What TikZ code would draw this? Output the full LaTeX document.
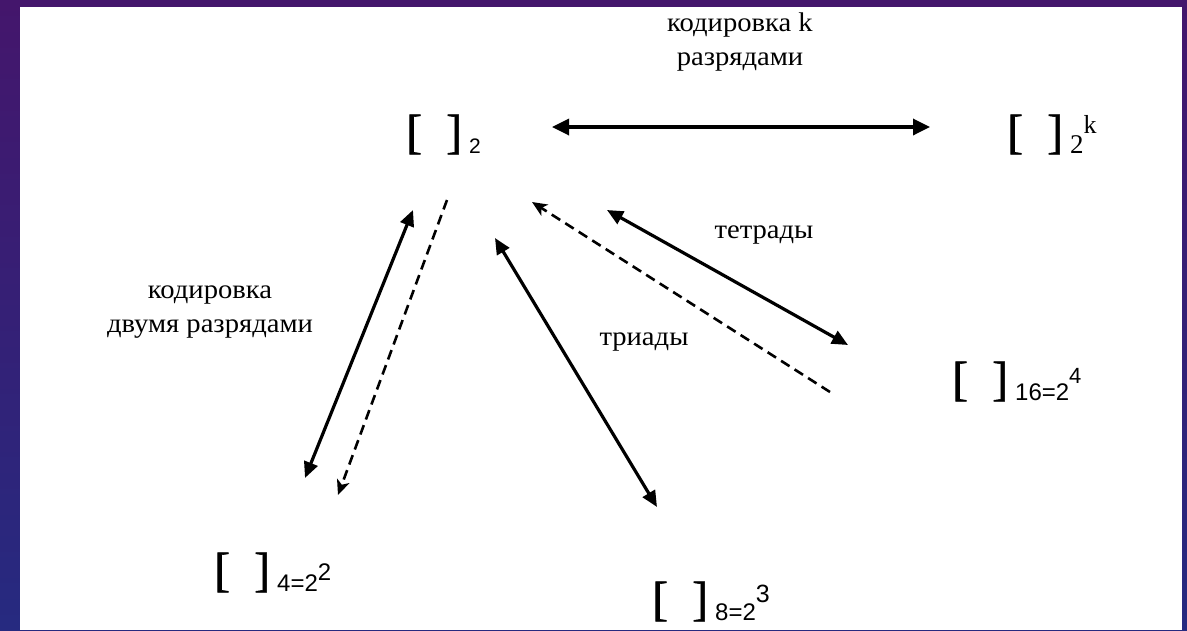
\documentclass[tikz,border=0pt]{standalone}
\usepackage{fontspec}
\setmainfont{Liberation Serif}
\newfontfamily\labf{Liberation Serif}[FakeStretch=1.06]
\newfontfamily\brf{Liberation Serif}[FakeBold=1.2]
\newfontfamily\subrf{Liberation Serif}
\newfontfamily\subsf{Liberation Sans}
\usetikzlibrary{arrows.meta}
\definecolor{bgtop}{RGB}{68,22,108}
\definecolor{bgbot}{RGB}{38,42,128}
\newcommand{\brpair}{{\brf\fontsize{48}{48}\selectfont[\hspace{24pt}]}\hspace{7pt}}
\newcommand{\bracketlabel}[3]{\brpair\raisebox{-5pt}{#1}\raisebox{#3}{#2}}
\begin{document}
\begin{tikzpicture}[x=1pt,y=-1pt,
  lab/.style={font=\labf\fontsize{27}{34}\selectfont, inner sep=0pt, align=center},
  br/.style={anchor=base west, inner sep=0pt},
  dbl/.style={line width=3.2pt, arrows={Triangle[length=16pt,width=14pt]-Triangle[length=16pt,width=14pt]}},
  dblh/.style={line width=3.4pt, arrows={Triangle[length=17pt,width=16pt]-Triangle[length=17pt,width=16pt]}},
  dsh/.style={line width=2.6pt, dash pattern=on 10pt off 6pt, arrows={-Stealth[length=15pt,width=13pt,inset=4pt]}}]
\shade[top color=bgtop,bottom color=bgbot] (0,0) rectangle (1187,630);
\fill[white] (20,7) rectangle (1182,630);
\useasboundingbox (0,0) rectangle (1187,630);

% labels
\node[lab, anchor=base] (ltop) at (740,65) {кодировка k\\разрядами};
\node[lab, anchor=base] (lleft) at (210,332) {кодировка\\двумя разрядами};
\node[lab, anchor=base] (ltet) at (764,238) {тетрады};
\node[lab, anchor=base] (ltri) at (644,345) {триады};

% bracket nodes
\node[br] (n2) at (406,148) {\bracketlabel{\subsf\fontsize{21}{21}\selectfont 2}{}{0pt}};
\node[br] (n2k) at (1007,148) {\bracketlabel{\subrf\fontsize{27}{27}\selectfont 2}{\subrf\fontsize{26}{26}\selectfont k}{15pt}};
\node[br] (n16) at (952,395) {\bracketlabel{\subsf\fontsize{24}{24}\selectfont 16=2}{\subsf\fontsize{22}{22}\selectfont 4}{12pt}};
\node[br] (n4) at (214,586) {\bracketlabel{\subsf\fontsize{24}{24}\selectfont 4=2}{\subsf\fontsize{24}{24}\selectfont 2}{6pt}};
\node[br] (n8) at (652,615) {\bracketlabel{\subsf\fontsize{24}{24}\selectfont 8=2}{\subsf\fontsize{25}{25}\selectfont 3}{13pt}};

% arrow end points
\coordinate (h1) at (552,127);
\coordinate (h2) at (930,127);
\coordinate (a4s1) at (413,210);
\coordinate (a4s2) at (305,478);
\coordinate (a4d1) at (447,200);
\coordinate (a4d2) at (338,495);
\coordinate (a8s1) at (495,238);
\coordinate (a8s2) at (657,507);
\coordinate (a16d1) at (830,392);
\coordinate (a16d2) at (532,202);
\coordinate (a16s1) at (607,210);
\coordinate (a16s2) at (848,345);

\draw[dblh] (h1) -- (h2);
\draw[dbl] (a4s1) -- (a4s2);
\draw[dsh] (a4d1) -- (a4d2);
\draw[dbl] (a8s1) -- (a8s2);
\draw[dsh] (a16d1) -- (a16d2);
\draw[dbl] (a16s1) -- (a16s2);
\end{tikzpicture}
\end{document}
